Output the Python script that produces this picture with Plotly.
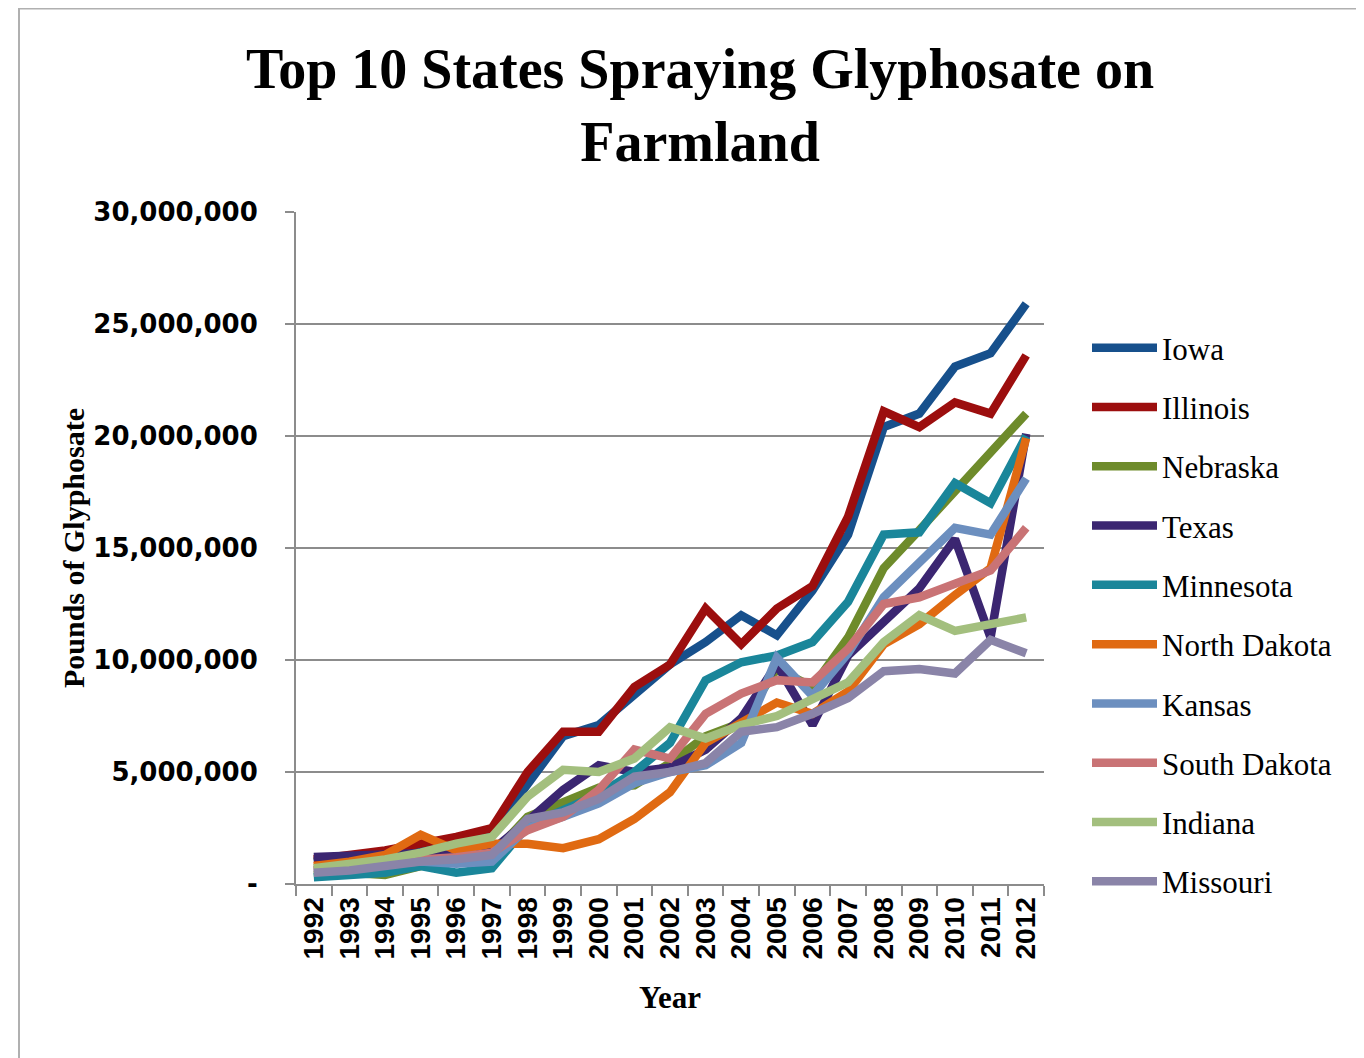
import plotly.graph_objects as go

years = [str(y) for y in range(1992, 2013)]

iowa = [1.0, 1.2, 1.4, 1.7, 1.9, 2.3, 4.5, 6.6, 7.1, 8.4, 9.8, 10.8, 12.0, 11.1, 13.1, 15.6, 20.4, 21.0, 23.1, 23.7, 25.9]
illinois = [1.1, 1.3, 1.5, 1.8, 2.1, 2.5, 5.0, 6.8, 6.8, 8.8, 9.8, 12.3, 10.7, 12.3, 13.3, 16.4, 21.1, 20.4, 21.5, 21.0, 23.6]
nebraska = [0.4, 0.5, 0.4, 0.8, 1.1, 1.3, 3.0, 3.6, 4.3, 4.4, 5.4, 6.6, 7.2, 9.6, 8.8, 11.0, 14.1, 15.8, 17.5, 19.2, 21.0]
texas = [1.2, 1.25, 1.3, 1.35, 1.4, 1.5, 2.8, 4.2, 5.3, 5.0, 5.2, 6.0, 7.4, 9.8, 7.1, 10.2, 11.7, 13.2, 15.4, 11.0, 20.1]
minnesota = [0.3, 0.4, 0.5, 0.8, 0.5, 0.7, 2.6, 3.3, 4.0, 5.0, 6.3, 9.1, 9.9, 10.2, 10.8, 12.6, 15.6, 15.7, 17.9, 17.0, 20.0]
north_dakota = [0.8, 1.0, 1.3, 2.2, 1.5, 1.8, 1.8, 1.6, 2.0, 2.9, 4.1, 6.3, 7.2, 8.1, 7.6, 8.6, 10.7, 11.6, 12.9, 14.1, 19.9]
kansas = [0.6, 0.7, 0.9, 1.0, 0.9, 1.0, 2.5, 3.0, 3.6, 4.5, 5.0, 5.3, 6.3, 10.1, 8.4, 10.3, 12.8, 14.4, 15.9, 15.6, 18.1]
south_dakota = [0.6, 0.8, 0.9, 1.1, 1.2, 1.4, 2.4, 3.0, 4.2, 6.0, 5.6, 7.6, 8.5, 9.1, 9.0, 10.5, 12.5, 12.8, 13.4, 14.0, 15.9]
indiana = [0.7, 0.9, 1.1, 1.4, 1.8, 2.1, 3.9, 5.1, 5.0, 5.6, 7.0, 6.5, 7.1, 7.5, 8.2, 9.0, 10.8, 12.0, 11.3, 11.6, 11.9]
missouri = [0.5, 0.6, 0.8, 1.0, 1.1, 1.3, 2.9, 3.2, 3.8, 4.8, 5.0, 5.4, 6.8, 7.0, 7.6, 8.3, 9.5, 9.6, 9.4, 10.9, 10.3]

series_names = ["Iowa", "Illinois", "Nebraska", "Texas", "Minnesota", "North Dakota",
                "Kansas", "South Dakota", "Indiana", "Missouri"]
series_values = [iowa, illinois, nebraska, texas, minnesota, north_dakota,
                 kansas, south_dakota, indiana, missouri]
series_colors = ["#17508C", "#9C0E0E", "#6E8B2B", "#3B2671", "#1A869A", "#E06A12",
                 "#6C8FBF", "#C97375", "#A3BF7E", "#8A84A8"]

y_tick_vals = [0, 5e6, 10e6, 15e6, 20e6, 25e6, 30e6]
y_tick_text = ["-", "5,000,000", "10,000,000", "15,000,000", "20,000,000", "25,000,000", "30,000,000"]

fig = go.Figure()
for i, (name, vals, col) in enumerate(zip(series_names, series_values, series_colors)):
    fig.add_trace(go.Scatter(
        x=years, y=[v * 1e6 for v in vals], name=name, mode="lines",
        line=dict(color=col, width=8.5), legendgroup=f"g{i}",
    ))

W, H = 1364, 1058
L, R, T, B = 288, 1036, 204, 876

def px_x(p):
    return (p - L) / (R - L)

def px_y(p):
    return (B - p) / (B - T)

fig.update_layout(
    width=W, height=H,
    margin=dict(l=L, r=W - R, t=T, b=H - B),
    paper_bgcolor="white", plot_bgcolor="white",
    title=dict(
        text="<b>Top 10 States Spraying Glyphosate on<br>Farmland</b>",
        font=dict(family="Liberation Serif", size=56, color="black"),
        x=692 / W, xanchor="center", xref="container",
        y=1 - 80 / H, yanchor="middle", yref="container",
    ),
    xaxis=dict(
        type="category", range=[-0.5, 20.5],
        showline=True, linecolor="#8c8c8c", linewidth=2,
        ticks="outside", ticklen=10, tickcolor="#8c8c8c", tickwidth=2,
        tickson="boundaries", tickangle=-90,
        tickfont=dict(family="Liberation Sans", size=28, color="black", weight="bold"),
        showgrid=False,
        title=dict(text="<b>Year</b>", font=dict(family="Liberation Serif", size=31, color="black"), standoff=28),
    ),
    yaxis=dict(
        range=[0, 30e6], tickvals=y_tick_vals, ticktext=y_tick_text,
        showline=True, linecolor="#8c8c8c", linewidth=2,
        ticks="outside", ticklen=9, tickcolor="#8c8c8c", tickwidth=2,
        showgrid=True, gridcolor="#8c8c8c", gridwidth=2,
        zeroline=False,
        tickfont=dict(family="DejaVu Sans", size=26, color="black", weight="bold"),
        ticklabelstandoff=22,
        title=dict(text="<b>Pounds of Glyphosate</b>", font=dict(family="Liberation Serif", size=30, color="black"), standoff=0),
    ),
    legend=dict(
        x=px_x(1079), xanchor="left", y=px_y(313), yanchor="top",
        font=dict(family="Liberation Serif", size=31, color="black"),
        tracegroupgap=16, bgcolor="rgba(0,0,0,0)", itemwidth=65,
    ),
    shapes=[dict(
        type="rect", xref="paper", yref="paper",
        x0=px_x(11), x1=px_x(1380), y0=px_y(1080), y1=px_y(0.5),
        line=dict(color="#b0b0b0", width=2), fillcolor="rgba(0,0,0,0)", layer="below",
    )],
)

fig.write_html("out.html")
